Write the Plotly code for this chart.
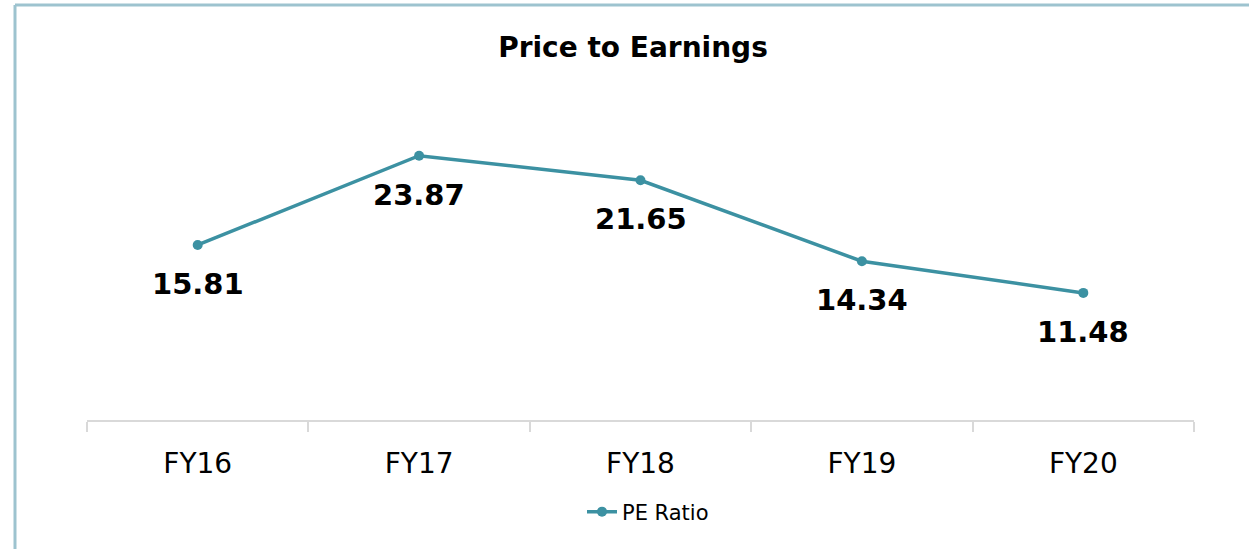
import plotly.graph_objects as go

categories = ["FY16", "FY17", "FY18", "FY19", "FY20"]
pe_ratio = [15.81, 23.87, 21.65, 14.34, 11.48]
series_name = "PE Ratio"
chart_title = "Price to Earnings"

W, H = 1249, 549
ML, MR, MT, MB = 87, 55, 110, 129
LINE_COLOR = "#3C91A2"
FONT = "DejaVu Sans"

fig = go.Figure()
fig.add_trace(go.Scatter(
    x=categories, y=pe_ratio, mode="lines+markers", name=series_name,
    line=dict(color=LINE_COLOR, width=3.5),
    marker=dict(color=LINE_COLOR, size=10),
))

for c, v in zip(categories, pe_ratio):
    fig.add_annotation(x=c, y=v, text=f"<b>{v:.2f}</b>", showarrow=False,
                       yshift=-39, font=dict(family=FONT, size=29, color="#000000"))

pw = W - ML - MR
ph = H - MT - MB
bx = (15 - ML) / pw
by_top = 1 + (MT - 5) / ph
by_bot = -(MB + 10) / ph
border = "#9DC3CF"
fig.add_shape(type="line", xref="paper", yref="paper", x0=bx, x1=1 + (MR + 10) / pw,
              y0=by_top, y1=by_top, line=dict(color=border, width=3))
fig.add_shape(type="line", xref="paper", yref="paper", x0=bx, x1=bx,
              y0=by_top, y1=by_bot, line=dict(color=border, width=3))

fig.update_layout(
    width=W, height=H,
    margin=dict(l=ML, r=MR, t=MT, b=MB),
    paper_bgcolor="white", plot_bgcolor="white",
    title=dict(text="<b>" + chart_title + "</b>", x=633 / W, xanchor="center",
               y=1 - 47 / H, yanchor="middle",
               font=dict(family=FONT, size=28, color="#000000")),
    xaxis=dict(range=[-0.5, 4.5], showline=True, linecolor="#D9D9D9", linewidth=2,
               ticks="outside", tickson="boundaries", ticklen=10,
               tickcolor="#D9D9D9", tickwidth=2, showgrid=False,
               ticklabelstandoff=17,
               tickfont=dict(family=FONT, size=28, color="#000000")),
    yaxis=dict(range=[0, 28], visible=False, showgrid=False, zeroline=False),
    showlegend=True,
    legend=dict(orientation="h", x=(648 - ML) / pw, xanchor="center",
                y=-(512 - (H - MB)) / ph, yanchor="middle",
                font=dict(family=FONT, size=21, color="#000000")),
)

fig.write_html("out.html", config={"displayModeBar": False},
               post_script="document.body.style.margin='0';document.body.style.overflow='hidden';")
